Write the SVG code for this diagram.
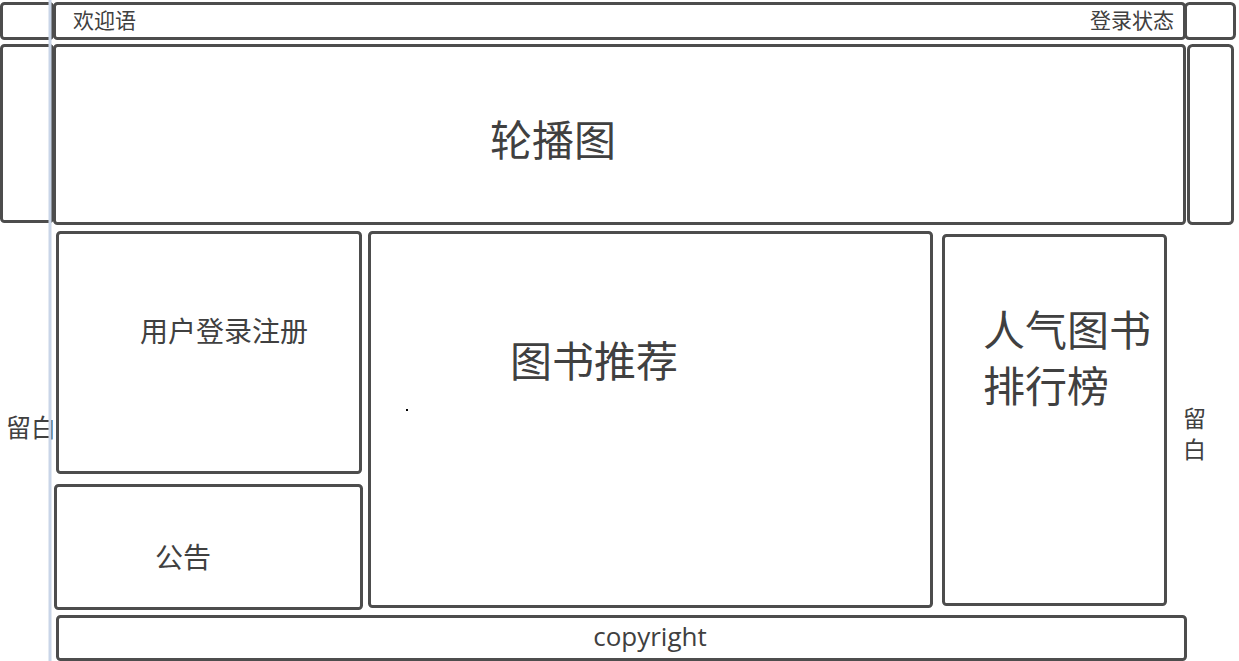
<svg xmlns="http://www.w3.org/2000/svg" width="1239" height="661" viewBox="0 0 1239 661">
<style>
.b{fill:#fff;stroke:#4d4d4d;stroke-width:3}
.t{font-family:"Noto Sans CJK SC","Liberation Sans",sans-serif;fill:#404040}
.c{font-family:"Open Sans","Liberation Sans",sans-serif;fill:#404040}
</style>
<rect width="1239" height="661" fill="#fff"/>
<g id="tl"><rect class="b" x="1.5" y="3.5" width="51" height="35" rx="3"/></g>
<g id="topbar"><rect class="b" x="54.5" y="3.5" width="1130" height="35" rx="3"/>
<text class="t" x="73" y="28" font-size="21">欢迎语</text>
<text class="t" x="1174" y="28" font-size="21" text-anchor="end">登录状态</text></g>
<g id="tr"><rect class="b" x="1185.5" y="3.5" width="49" height="35" rx="4"/></g>
<g id="ml"><rect class="b" x="1.5" y="45.5" width="51" height="176" rx="3"/></g>
<g id="banner"><rect class="b" x="54.5" y="45.5" width="1130" height="178" rx="3"/>
<text class="t" x="553" y="156" font-size="42" text-anchor="middle">轮播图</text></g>
<g id="mr"><rect class="b" x="1188.5" y="45.5" width="44" height="178" rx="4"/></g>
<g id="login"><rect class="b" x="57.5" y="232.5" width="303" height="240" rx="3"/>
<text class="t" x="140" y="342" font-size="28">用户登录注册</text></g>
<g id="notice"><rect class="b" x="55.5" y="485.5" width="306" height="123" rx="3"/>
<text class="t" x="155" y="568" font-size="28">公告</text></g>
<g id="rec"><rect class="b" x="369.5" y="232.5" width="562" height="374" rx="3"/>
<text class="t" x="510" y="377" font-size="42">图书推荐</text>
<rect x="406" y="409" width="2" height="2" fill="#000"/></g>
<g id="popular"><rect class="b" x="943.5" y="235.5" width="222" height="369" rx="3"/>
<text class="t" x="983" y="346" font-size="42">人气图书</text>
<text class="t" x="983" y="402" font-size="42">排行榜</text></g>
<g id="copyright"><rect class="b" x="57.5" y="616.5" width="1128" height="43" rx="3"/>
<text class="c" x="650" y="646" font-size="26" text-anchor="middle">copyright</text></g>
<g id="lmargin"><text class="t" x="6" y="437" font-size="25">留白</text></g>
<g id="rmargin"><text class="t" x="1183" y="427" font-size="23">留</text>
<text class="t" x="1183" y="458" font-size="23">白</text></g>
<line x1="50" y1="0" x2="50" y2="661" stroke="#c9d5e8" stroke-width="3"/>
</svg>
